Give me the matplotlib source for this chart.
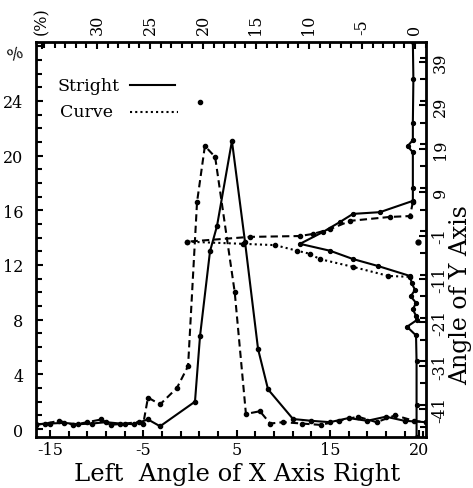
import matplotlib
matplotlib.use("Agg")
import matplotlib.pyplot as plt
from matplotlib.ticker import MultipleLocator, FixedLocator

plt.rcParams['font.family'] = ['DejaVu Serif']

# vertical profile: angle of X axis (bottom) vs percent (left)
stright_x = [-16.5, -15, -13.5, -12, -10.5, -9, -7.5, -6, -4.5, -3.2, 0.54, 1.08, 2.15, 2.9,
             4.5, 5.9, 7.3, 8.37, 11.05, 13, 15, 17, 19, 21, 23, 25.3]
stright_y = [0.35, 0.4, 0.45, 0.35, 0.4, 0.5, 0.4, 0.35, 0.7, 0.2, 2.0, 6.8, 13.0, 14.85,
             21.07, 13.7, 5.85, 2.9, 0.73, 0.6, 0.5, 0.8, 0.6, 0.9, 0.6, 0.5]
curve_x = [-16.5, -15.5, -14, -12.5, -11, -9.5, -8.5, -7, -5.5, -5, -4.5, -3.2, -1.4, -0.2,
           0.76, 1.6, 2.7, 4.8, 6.0, 7.5, 8.6, 10, 12, 14, 16, 18, 20, 22, 24, 25.3]
curve_y = [0.3, 0.4, 0.6, 0.3, 0.5, 0.7, 0.3, 0.4, 0.5, 0.4, 2.3, 1.8, 3.0, 4.6,
           16.6, 20.7, 19.9, 10.0, 1.1, 1.3, 0.4, 0.5, 0.4, 0.3, 0.6, 0.9, 0.5, 1.0, 0.6, 0.5]
stray_x = [1.08]
stray_y = [23.9]

# side profile: percent (top) vs angle of Y axis (right)
side_stright_pct = [0.2, 0.15, 0.2, 0.2, 0.7, 0.2, 0.2, 0.2, 3.3, 5.85, 7.1, 8.7, 10.85, 8.0,
                    5.85, 3.5, 0.47, 0.3, 0.0, 0.4, -0.1, 0.2, -0.1, -0.15, 0.75, -0.1,
                    -0.15, -0.15, -0.15]
side_stright_ang = [43.6, 35, 25, 21, 19.6, 18.2, 10, 7.0, 4.4, 4.0, 2.1, -0.2, -2.9, -4.5,
                    -6.4, -8.0, -10.3, -12, -13.5, -15, -16.5, -18, -19.5, -20.5, -22, -24,
                    -30, -40, -47.4]
side_curve_up_pct = [0.2, 0.47, 2.36, 6.1, 8.0, 9.6, 10.85, 15.6, 21.5]
side_curve_up_ang = [6.7, 3.5, 3.3, 2.4, 0.5, -0.6, -1.1, -1.3, -2.4]
side_curve_lo_pct = [21.5, 16.2, 13.2, 11.1, 9.9, 9.0, 5.85, 2.5, 0.47]
side_curve_lo_ang = [-2.4, -2.9, -3.2, -4.5, -5.2, -6.4, -8.2, -10.3, -10.5]
side_dot_pct = [-0.28]
side_dot_ang = [-2.5]

left_ticks = [0, 4, 8, 12, 16, 20, 24]
bottom_ticks = [-15, -5, 5, 15, 24.6]
bottom_labels = ['-15', '-5', '5', '15', '20']
top_ticks = [35.2, 30, 25, 20, 15, 10, 5, 0]
top_labels = ['(%)', '30', '25', '20', '15', '10', '-5', '0']
right_ticks = [39, 29, 19, 9, -1, -11, -21, -31, -41]

fig = plt.figure(figsize=(4.73, 4.89), dpi=100)
pos = [36/473, 1 - 438/489, 390/473, 395/489]
ax = fig.add_axes(pos)
ax2 = fig.add_axes(pos, frameon=False)

ax.plot(stright_x, stright_y, color='k', lw=1.5, marker='o', ms=3)
ax.plot(curve_x, curve_y, color='k', lw=1.5, ls=(0, (3.5, 2)), marker='o', ms=3)
ax.plot(stray_x, stray_y, 'ko', ms=3)
ax.set_xlim(-16.5, 25.3)
ax.set_ylim(-0.585, 28.31)

ax2.plot(side_stright_pct, side_stright_ang, color='k', lw=1.5, marker='o', ms=2.8)
ax2.plot(side_curve_up_pct, side_curve_up_ang, color='k', lw=1.5, ls=(0, (3.5, 2)), marker='o', ms=3)
ax2.plot(side_curve_lo_pct, side_curve_lo_ang, color='k', lw=1.5, ls=(0, (1, 1.5)), marker='o', ms=3)
ax2.plot(side_dot_pct, side_dot_ang, 'ko', ms=3.5)
ax2.set_xlim(35.75, -1.04)
ax2.set_ylim(-47.4, 43.6)

for s in ax.spines.values():
    s.set_linewidth(2)

ax.set_yticks(left_ticks)
ax.yaxis.set_minor_locator(MultipleLocator(1))
ax.set_xticks(bottom_ticks, bottom_labels)
ax.xaxis.set_minor_locator(FixedLocator([-15 + 2*i for i in range(21)]))
ax.tick_params(which='both', direction='in', width=1.5, labelsize=11.5)
ax.tick_params(which='major', length=5)
ax.tick_params(which='minor', length=4)
ax.tick_params(axis='y', pad=9)
ax.tick_params(axis='x', pad=3)

ax2.xaxis.tick_top()
ax2.yaxis.tick_right()
ax2.set_xticks(top_ticks, top_labels, rotation=90)
ax2.xaxis.set_minor_locator(MultipleLocator(1))
ax2.set_yticks(right_ticks, [str(t) for t in right_ticks], rotation=90, va='center')
ax2.yaxis.set_minor_locator(MultipleLocator(5))
ax2.tick_params(which='both', direction='in', width=1.5, labelsize=11.5)
ax2.tick_params(which='major', length=5)
ax2.tick_params(which='minor', length=4)
ax2.tick_params(axis='x', pad=6)
ax2.tick_params(axis='y', pad=4)

# legend drawn by hand: label first, then line sample
ax.text(0.054, 0.891, 'Stright', transform=ax.transAxes, va='center', fontsize=12.5)
ax.plot([0.241, 0.356], [0.891, 0.891], transform=ax.transAxes, color='k', lw=1.5)
ax.text(0.0615, 0.823, 'Curve', transform=ax.transAxes, va='center', fontsize=12.5)
ax.plot([0.241, 0.364], [0.823, 0.823], transform=ax.transAxes, color='k', lw=1.5, ls=(0, (1, 1.5)))

fig.text(237/473, 1 - 475/489, 'Left  Angle of X Axis Right', ha='center', va='center', fontsize=17.5)
fig.text(461/473, 1 - 295/489, 'Angle of Y Axis', ha='center', va='center', rotation=90, fontsize=17)
fig.text(15/473, 1 - 55/489, '%', ha='center', va='center', fontsize=12, rotation=20)

fig.savefig('out.png', dpi=100)
